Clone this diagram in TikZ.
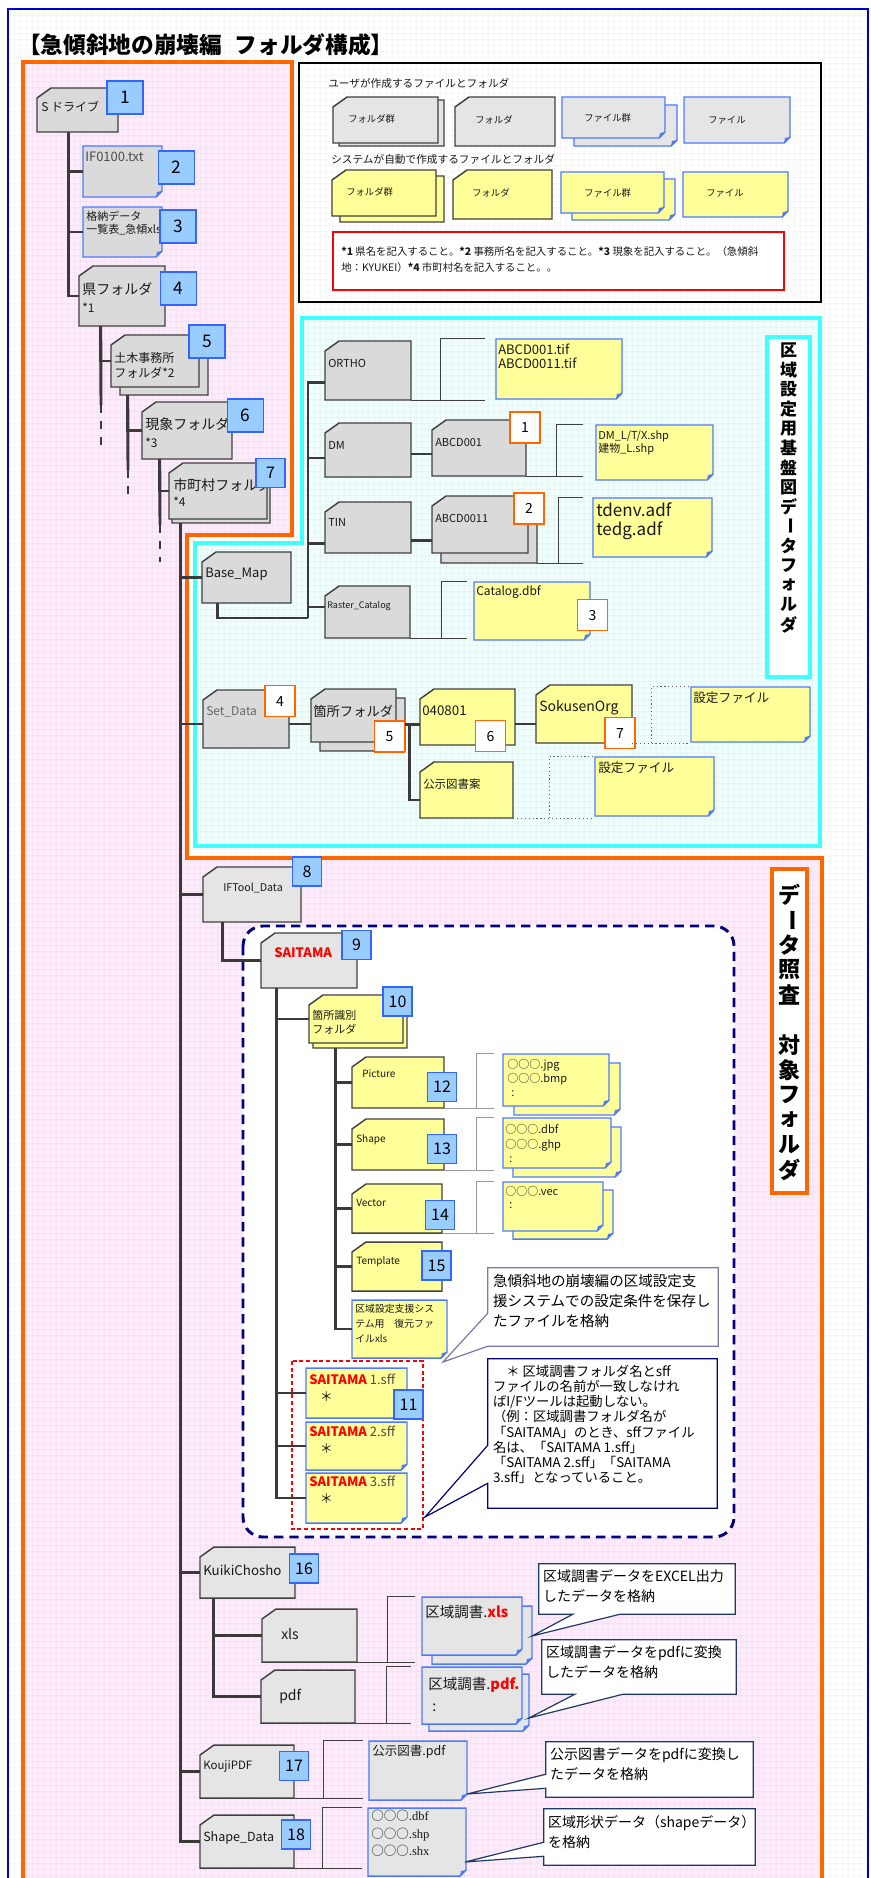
\documentclass[tikz,border=0pt]{standalone}
\usepackage{fontspec}
\setmainfont{Noto Sans CJK JP}
\newfontfamily\lserif{Liberation Serif}
\usetikzlibrary{calc,fit}

\definecolor{pinkbg}{RGB}{253,235,251}
\definecolor{cyanbg}{RGB}{240,253,253}
\definecolor{orng}{RGB}{255,102,0}
\definecolor{cyanln}{RGB}{64,255,255}
\definecolor{frameblue}{RGB}{0,0,204}
\definecolor{fldgray}{RGB}{64,64,64}
\definecolor{gfill}{RGB}{218,218,218}
\definecolor{lgfill}{RGB}{229,229,229}
\definecolor{yfill}{RGB}{255,255,153}
\definecolor{fileblue}{RGB}{77,121,255}
\definecolor{badgefill}{RGB}{153,204,255}
\definecolor{badgeline}{RGB}{51,102,255}
\definecolor{dnavy}{RGB}{0,0,128}
\definecolor{treegray}{RGB}{58,58,58}
\definecolor{callblue}{RGB}{31,56,100}
\definecolor{callgray}{RGB}{120,120,170}

\newcommand{\fsz}[2]{\fontsize{#1}{#2}\selectfont}
\newcommand{\ooo}{○○○}

% folder: name, x1, y1, x2, y2, fill
\newcommand{\fldr}[6]{%
	\draw[fldline, fill=#6] ({#2+14},{#3}) -- ({#4},{#3}) -- ({#4},{#5}) -- ({#2},{#5}) -- ({#2},{#3+10}) -- cycle;
	\node[shapebox, fit={({#2},{#3}) ({#4},{#5})}] (#1) {};}
% folder group, back sheet shifted by (#7,#8)
\newcommand{\fldrs}[8]{%
	\fldr{#1-b}{#2+#7}{#3+#8}{#4+#7}{#5+#8}{#6}
	\fldr{#1}{#2}{#3}{#4}{#5}{#6}}
% file with folded corner: name, x1, y1, x2, y2, fill
\newcommand{\fyle}[6]{%
	\draw[fileline, fill=#6] ({#2},{#3}) -- ({#4},{#3}) -- ({#4},{#5-6}) -- ({#4-6},{#5}) -- ({#2},{#5}) -- cycle;
	\fill[fileblue] ({#4},{#5-6}) -- ({#4-6},{#5}) -- ({#4-5},{#5-5}) -- cycle;
	\node[shapebox, fit={({#2},{#3}) ({#4},{#5})}] (#1) {};}
\newcommand{\fyles}[8]{%
	\fyle{#1-b}{#2+#7}{#3+#8}{#4+#7}{#5+#8}{#6}
	\fyle{#1}{#2}{#3}{#4}{#5}{#6}}
% bracket from folder to its files
\newcommand{\brkt}[5]{%
	\draw[#5] (#1.south east) -- ($(#1.south east -| #2.west)+(-#4,0)$);
	\draw[#5] ($(#1.south east)+(#3,0)$) |- ($(#2.north west)+(-#4,0)$);}

\tikzset{
	shapebox/.style={inner sep=0pt},
	fldline/.style={draw=fldgray, line width=1.1pt},
	fileline/.style={draw=fileblue, line width=1.1pt},
	trunk/.style={draw=treegray, line width=2.2pt},
	brk/.style={draw=fldgray, line width=0.9pt},
	brklt/.style={draw=black!40, line width=0.9pt},
	brkdot/.style={draw=black!60, line width=0.9pt, dotted},
	lbl/.style={anchor=west, inner sep=0pt, align=left, text=black!90},
	badge/.style={draw=badgeline, fill=badgefill, line width=1.1pt, inner sep=0pt, minimum width=27pt, minimum height=25pt, font=\fsz{13}{13}},
	sbadge/.style={badge, minimum width=21.5pt, minimum height=21.5pt, font=\fsz{12}{12}},
	obadge/.style={draw=orng, fill=white, line width=1.1pt, inner sep=0pt, minimum width=22.5pt, minimum height=23.5pt, font=\fsz{10.5}{10.5}},
	callln/.style={draw=callblue, line width=0.9pt, fill=white},
	ctxt/.style={anchor=north west, inner sep=0pt, align=left, font=\fsz{10.5}{15}},
	vchr/.style={inner sep=0pt, font=\fsz{12.75}{12.75}\bfseries},
	gridln/.style={black, opacity=0.028, line width=0.4pt}
}

\begin{document}
\begin{tikzpicture}[x=0.75pt, y=-0.75pt]
	\useasboundingbox (0,0) rectangle (871,1878);
	\clip (0,0) rectangle (871,1878);
	\fill[white] (0,0) rectangle (871,1878);
	% regions
	\fill[pinkbg] (23,62) -- (292,62) -- (292,535) -- (187,535) -- (187,858) -- (822,858) -- (822,1900) -- (23,1900) -- cycle;
	\fill[cyanbg] (302,318) -- (820,318) -- (820,846) -- (195,846) -- (195,543) -- (302,543) -- cycle;
	\foreach \gx in {14,20,...,866} \draw[gridln] (\gx,10) -- (\gx,1878);
	\foreach \gy in {15,21,...,1878} \draw[gridln] (9,\gy) -- (867,\gy);
	\draw[orng, line width=2.4pt] (23,62) -- (292,62) -- (292,535) -- (187,535) -- (187,858) -- (822,858) -- (822,1900) -- (23,1900) -- cycle;
	\draw[cyanln, line width=2.6pt] (302,318) -- (820,318) -- (820,846) -- (195,846) -- (195,543) -- (302,543) -- cycle;
	\draw[frameblue, line width=1.6pt] (8,9) rectangle (868,1900);

	\node[anchor=west, inner sep=0pt, font=\fsz{17}{17}\bfseries] (title) at (18,45) {【急傾斜地の崩壊編\hspace{0.55em}フォルダ構成】};

	% legend
	\draw[black, line width=2.2pt] (299,63) rectangle (821,302);
	\node[lbl, font=\fsz{8}{8}] (lg-t1) at (328,83) {ユーザが作成するファイルとフォルダ};
	\fldrs{lg1}{333}{97}{438}{143}{lgfill}{6}{3}
	\fldr{lg2}{455}{97}{555}{146}{lgfill}
	\fyles{lg3}{562}{97}{665}{138}{lgfill}{12}{8}
	\fyle{lg4}{684}{97}{790}{143}{lgfill}
	\node[lbl, font=\fsz{7}{7}] (lg1-t) at (348,119) {フォルダ群};
	\node[lbl, font=\fsz{7}{7}] (lg2-t) at (475,120) {フォルダ};
	\node[lbl, font=\fsz{7}{7}] (lg3-t) at (584,118) {ファイル群};
	\node[lbl, font=\fsz{7}{7}] (lg4-t) at (708,120) {ファイル};
	\node[lbl, font=\fsz{8}{8}] (lg-t2) at (331,159) {システムが自動で作成するファイルとフォルダ};
	\fldrs{lg5}{332}{170}{436}{216}{yfill}{8}{6}
	\fldr{lg6}{453}{170}{552}{219}{yfill}
	\fyles{lg7}{561}{172}{664}{213}{yfill}{11}{7}
	\fyle{lg8}{683}{172}{788}{217}{yfill}
	\node[lbl, font=\fsz{7}{7}] (lg5-t) at (346,192) {フォルダ群};
	\node[lbl, font=\fsz{7}{7}] (lg6-t) at (472,193) {フォルダ};
	\node[lbl, font=\fsz{7}{7}] (lg7-t) at (584,193) {ファイル群};
	\node[lbl, font=\fsz{7}{7}] (lg8-t) at (706,193) {ファイル};
	\draw[red, line width=2.2pt, fill=white] (333,232) rectangle (784,290);
	\node[lbl, anchor=north west, font=\fsz{7.8}{12}] (note) at (341,246) {{\bfseries *1} 県名を記入すること。{\bfseries *2} 事務所名を記入すること。{\bfseries *3} 現象を記入すること。（急傾斜\\地：KYUKEI）{\bfseries *4} 市町村名を記入すること。。};

	% S drive tree
	\fldr{sdrive}{37}{88}{118}{132}{gfill}
	\fyle{if0100}{83}{146}{162}{197}{gfill}
	\fyle{kakunou}{83}{207}{162}{257}{gfill}
	\fldr{kenf}{79}{266}{165}{326}{gfill}
	\fldrs{doboku}{111}{335}{199}{387}{gfill}{9}{8}
	\fldr{genshou}{142}{402}{232}{459}{gfill}
	\fldrs{shichou}{169}{463}{267}{519}{gfill}{3}{4}
	\node[lbl, font=\fsz{9}{9}] (sdrive-t) at (41,107) {S ドライブ};
	\node[lbl, font=\fsz{9.75}{9.75}, text=black!70] (if0100-t) at (85,157) {IF0100.txt};
	\node[lbl, font=\fsz{8.25}{9.75}] (kakunou-t) at (86,223.5) {格納データ\\一覧表\_急傾xls};
	\node[lbl, font=\fsz{10.5}{10.5}] (kenf-t) at (82,289) {県フォルダ};
	\node[lbl, font=\fsz{9}{9}] (kenf-s) at (82,308) {*1};
	\node[lbl, font=\fsz{9}{11.25}] (doboku-t) at (114,365) {土木事務所\\フォルダ*2};
	\node[lbl, font=\fsz{10.5}{10.5}] (genshou-t) at (145,424) {現象フォルダ};
	\node[lbl, font=\fsz{9}{9}] (genshou-s) at (145,443) {*3};
	\node[lbl, font=\fsz{10.5}{10.5}] (shichou-t) at (173,485) {市町村フォルダ};
	\node[lbl, font=\fsz{9}{9}] (shichou-s) at (173,502) {*4};
	\node[badge] (n1) at (125,97.5) {1};
	\node[badge] (n2) at (176.5,167.5) {2};
	\node[badge] (n3) at (178,226.5) {3};
	\node[badge] (n4) at (178.5,288.5) {4};
	\node[badge] (n5) at (207,341.5) {5};
	\node[badge] (n6) at (245.5,415.5) {6};
	\node[sbadge] (n7) at (270.5,473) {7};

	% base map folders
	\fldr{basemap}{202}{552}{291}{603}{gfill}
	\fldr{ortho}{325}{341}{411}{400}{gfill}
	\fldr{dm}{325}{423}{411}{477}{gfill}
	\fldr{abcd001}{432}{420}{526}{476}{gfill}
	\fldr{tin}{325}{502}{411}{553}{gfill}
	\fldrs{abcd0011}{432}{496}{528}{553}{gfill}{9}{10}
	\fldr{raster}{325}{586}{410}{638}{gfill}
	\fyle{orthofile}{496}{339}{622}{399}{yfill}
	\fyle{dmfile}{596}{425}{713}{480}{yfill}
	\fyle{tinfile}{593}{498}{712}{557}{yfill}
	\fyle{catalog}{474}{582}{590}{640}{yfill}
	\node[lbl, font=\fsz{9.75}{9.75}] (basemap-t) at (205,574) {Base\_Map};
	\node[lbl, font=\fsz{8.25}{8.25}] (ortho-t) at (328,363) {ORTHO};
	\node[lbl, font=\fsz{8.25}{8.25}] (dm-t) at (328,445) {DM};
	\node[lbl, font=\fsz{8.25}{8.25}] (abcd001-t) at (435,442) {ABCD001};
	\node[lbl, font=\fsz{8.25}{8.25}] (tin-t) at (328,522) {TIN};
	\node[lbl, font=\fsz{8.25}{8.25}] (abcd0011-t) at (435,518) {ABCD0011};
	\node[lbl, font=\fsz{6.75}{6.75}] (raster-t) at (327,606) {Raster\_Catalog};
	\node[lbl, font=\fsz{9.75}{10.5}] (orthofile-t) at (498,356) {ABCD001.tif\\ABCD0011.tif};
	\node[lbl, font=\fsz{8.25}{10.2}] (dmfile-t) at (598,443) {DM\_L/T/X.shp\\建物\_L.shp};
	\node[lbl, font=\fsz{12.75}{14.25}] (tinfile-t) at (596,521.5) {tdenv.adf\\tedg.adf};
	\node[lbl, font=\fsz{9}{9}] (catalog-t) at (476,592) {Catalog.dbf};
	\node[obadge] (o1) at (525,427.5) {1};
	\node[obadge] (o2) at (529,508.5) {2};
	\node[obadge] (o3) at (592.5,615) {3};

	% vertical label, base map folder
	\draw[cyanln, line width=2.4pt, fill=white] (767,337) rectangle (810,677);
	\foreach \c/\k in {区/0,域/1,設/2,定/3,用/4,基/5,盤/6,図/7,デ/8,タ/10,フ/11,ォ/12,ル/13,ダ/14}
		\node[vchr] (vk\k) at (788.5,{350+19.6*\k}) {\c};
	\node[vchr, rotate=-90] (vk9) at (788.5,{350+19.6*9}) {ー};

	% set data folders
	\fldr{setdata}{203}{690}{289}{748}{gfill}
	\fldrs{kasho}{311}{689}{396}{742}{gfill}{9}{9}
	\fldr{f040801}{420}{689}{515}{745}{yfill}
	\fldr{sokusen}{536}{685}{632}{743}{yfill}
	\fldr{koji}{420}{762}{513}{818}{yfill}
	\fyle{settei1}{691}{687}{810}{742}{yfill}
	\fyle{settei2}{595}{757}{714}{816}{yfill}
	\node[lbl, font=\fsz{9}{9}, text=black!60] (setdata-t) at (206,712) {Set\_Data};
	\node[lbl, font=\fsz{10}{10}] (kasho-t) at (313,711) {箇所フォルダ};
	\node[lbl, font=\fsz{10}{10}] (f040801-t) at (422,711) {040801};
	\node[lbl, font=\fsz{10.5}{10.5}] (sokusen-t) at (539,708) {SokusenOrg};
	\node[lbl, font=\fsz{9.5}{9.5}] (settei1-t) at (693,698) {設定ファイル};
	\node[lbl, font=\fsz{8.6}{8.6}] (koji-t) at (423,784) {公示図書案};
	\node[lbl, font=\fsz{9.5}{9.5}] (settei2-t) at (598,768) {設定ファイル};
	\node[obadge] (o4) at (280,701) {4};
	\node[obadge] (o5) at (389.5,736.5) {5};
	\node[obadge] (o6) at (490.5,736) {6};
	\node[obadge] (o7) at (620,733) {7};

	% vertical label, check folder
	\draw[orng, line width=2.4pt, fill=white] (772,869) rectangle (807,1193);
	\foreach \c/\k in {デ/0,タ/2,照/3,査/4,対/6,象/7,フ/8,ォ/9,ル/10,ダ/11}
		\node[vchr, font=\fsz{16.5}{16.5}\bfseries] (vd\k) at (789.5,{895+25*\k}) {\c};
	\node[vchr, rotate=-90, font=\fsz{16.5}{16.5}\bfseries] (vd1) at (789.5,920) {ー};

	% IFTool data
	\draw[dnavy, line width=2.2pt, dash pattern=on 7pt off 4.5pt, rounded corners=15pt, fill=white] (243,926) rectangle (734,1537);
	\draw[red, line width=0.8pt, dash pattern=on 3pt off 2pt] (292,1361) rectangle (423,1529);
	\fldr{iftool}{203}{867}{301}{922}{lgfill}
	\fldr{saitama}{261}{933}{357}{988}{lgfill}
	\fldrs{kashoshiki}{309}{995}{403}{1043}{yfill}{4}{5}
	\fldr{picture}{352}{1057}{444}{1108}{yfill}
	\fldr{shape}{352}{1119}{444}{1170}{yfill}
	\fldr{vector}{352}{1184}{442}{1233}{yfill}
	\fldr{template}{352}{1242}{442}{1291}{yfill}
	\fyles{picfiles}{503}{1054}{609}{1106}{yfill}{11}{9}
	\fyles{shpfiles}{503}{1118}{611}{1168}{yfill}{10}{9}
	\fyles{vecfiles}{503}{1182}{603}{1231}{yfill}{10}{8}
	\fyle{fukugen}{352}{1300}{447}{1358}{yfill}
	\fyle{sff1}{306}{1368}{407}{1418}{yfill}
	\fyle{sff2}{306}{1422}{407}{1470}{yfill}
	\fyle{sff3}{306}{1473}{407}{1523}{yfill}
	\node[lbl, font=\fsz{8}{8}] (iftool-t) at (223,888) {IFTool\_Data};
	\node[lbl, font=\fsz{9.75}{9.75}\bfseries, text=red] (saitama-t) at (274,953) {SAITAMA};
	\node[lbl, font=\fsz{8.25}{10.5}] (kashoshiki-t) at (312,1022) {箇所識別\\フォルダ};
	\node[lbl, font=\fsz{7.5}{7.5}] (picture-t) at (362,1074) {Picture};
	\node[lbl, font=\fsz{7.5}{7.5}] (shape-t) at (356,1140) {Shape};
	\node[lbl, font=\fsz{7.5}{7.5}] (vector-t) at (356,1203) {Vector};
	\node[lbl, font=\fsz{7.5}{7.5}] (template-t) at (356,1262) {Template};
	\node[lbl, font=\fsz{8.25}{10.8}] (picfiles-t) at (507,1078) {\ooo.jpg\\\ooo.bmp\\\hspace{3pt}:};
	\node[lbl, font=\fsz{8.25}{10.8}] (shpfiles-t) at (505,1143.5) {\ooo.dbf\\\ooo.ghp\\\hspace{3pt}:};
	\node[lbl, font=\fsz{8.25}{10}] (vecfiles-t) at (505,1197.5) {\ooo.vec\\\hspace{3pt}:};
	\node[lbl, font=\fsz{7.4}{10.9}] (fukugen-t) at (355,1323.5) {区域設定支援シス\\テム用　復元ファ\\イルxls};
	\node[lbl, font=\fsz{9.75}{12.75}] (sff1-t) at (309,1387.5) {{\color{red}\bfseries SAITAMA} {\color{black!70}1.sff}\\\hspace{8pt}＊};
	\node[lbl, font=\fsz{9.75}{12.75}] (sff2-t) at (309,1439.5) {{\color{red}\bfseries SAITAMA} {\color{black!70}2.sff}\\\hspace{8pt}＊};
	\node[lbl, font=\fsz{9.75}{12.75}] (sff3-t) at (309,1490) {{\color{red}\bfseries SAITAMA} {\color{black!70}3.sff}\\\hspace{8pt}＊};
	\node[sbadge] (n8) at (307,871.5) {8};
	\node[sbadge] (n9) at (356.5,945) {9};
	\node[sbadge] (n10) at (397.5,1001.5) {10};
	\node[sbadge] (n12) at (442,1087) {12};
	\node[sbadge] (n13) at (442,1149) {13};
	\node[sbadge] (n14) at (440,1215) {14};
	\node[sbadge] (n15) at (436.5,1265.5) {15};
	\node[sbadge] (n11) at (408.5,1404.5) {11};

	% callouts inside the check folder
	\node[shapebox, fit={(488,1268) (718,1346)}] (c1) {};
	\coordinate (c1tip) at (443,1362);
	\draw[callln, draw=callgray] (c1.north west) -- (c1.north east) -- (c1.south east) -- (c1.south west) -- (c1tip) -- ($(c1.south west)+(0,-33)$) -- cycle;
	\node[ctxt, font=\fsz{10.9}{15}] (c1-t) at ($(c1.north west)+(5,6)$) {急傾斜地の崩壊編の区域設定支\\援システムでの設定条件を保存し\\たファイルを格納};
	\node[shapebox, fit={(488,1359) (717,1508)}] (c2) {};
	\coordinate (c2tip) at (425,1517);
	\draw[callln, draw=dnavy] (c2.north west) -- (c2.north east) -- (c2.south east) -- (c2.south west) -- ($(c2.south west)+(0,-25)$) -- (c2tip) -- ($(c2.south west)+(0,-63)$) -- cycle;
	\node[ctxt, font=\fsz{10}{11.4}] (c2-t) at ($(c2.north west)+(5,6)$) {\hspace{1em}＊ 区域調書フォルダ名とsff\\ファイルの名前が一致しなけれ\\ばI/Fツールは起動しない。\\（例：区域調書フォルダ名が\\「SAITAMA」のとき、sffファイル\\名は、「SAITAMA 1.sff」\\「SAITAMA 2.sff」「SAITAMA\\3.sff」となっていること。};

	% KuikiChosho, KoujiPDF, Shape_Data
	\fldr{kuiki}{200}{1547}{295}{1598}{lgfill}
	\fldr{xls}{262}{1609}{357}{1662}{lgfill}
	\fldr{pdf}{261}{1670}{355}{1723}{lgfill}
	\fldr{kouji}{200}{1745}{294}{1798}{lgfill}
	\fldr{shapedata}{200}{1815}{294}{1868}{lgfill}
	\fyles{kxls}{422}{1597}{522}{1655}{lgfill}{10}{9}
	\fyles{kpdf}{422}{1667}{522}{1724}{lgfill}{7}{7}
	\fyle{koujipdf}{369}{1741}{467}{1800}{lgfill}
	\fyle{shapefile}{368}{1808}{466}{1876}{lgfill}
	\node[lbl, font=\fsz{10}{10}] (kuiki-t) at (203,1570) {KuikiChosho};
	\node[lbl, font=\fsz{10.5}{10.5}] (xls-t) at (281,1634) {xls};
	\node[lbl, font=\fsz{10.5}{10.5}] (pdf-t) at (279,1696) {pdf};
	\node[lbl, font=\fsz{10.9}{10.9}] (kxls-t) at (425,1612) {区域調書.{\color{red}\bfseries xls}};
	\node[lbl, font=\fsz{10.9}{16.5}] (kpdf-t) at (428,1694) {区域調書.{\color{red}\bfseries pdf.}\\\hspace{3pt}:};
	\node[lbl, font=\fsz{8.6}{8.6}] (kouji-t) at (203,1766) {KoujiPDF};
	\node[lbl, font=\fsz{9.4}{9.4}] (koujipdf-t) at (372,1752) {公示図書.pdf};
	\node[lbl, font=\fsz{9.4}{9.4}] (shapedata-t) at (203,1838) {Shape\_Data};
	\node[lbl, font=\fsz{9.4}{13}] (shapefile-t) at (371,1833.5) {\ooo{\lserif .dbf}\\\ooo{\lserif .shp}\\\ooo{\lserif .shx}};
	\node[sbadge] (n16) at (304,1568.5) {16};
	\node[sbadge] (n17) at (294,1766) {17};
	\node[sbadge] (n18) at (296,1834.5) {18};

	% callouts, lower part
	\node[shapebox, fit={(539,1564) (735,1614)}] (c3) {};
	\coordinate (c3tip) at (532,1636);
	\draw[callln] (c3.north west) -- (c3.north east) -- (c3.south east) -- ($(c3.south west)+(81,0)$) -- (c3tip) -- ($(c3.south west)+(34,0)$) -- (c3.south west) -- cycle;
	\node[ctxt] (c3-t) at ($(c3.north west)+(4,6)$) {区域調書データをEXCEL出力\\したデータを格納};
	\node[shapebox, fit={(542,1640) (736,1694)}] (c4) {};
	\coordinate (c4tip) at (529,1718);
	\draw[callln] (c4.north west) -- (c4.north east) -- (c4.south east) -- ($(c4.south west)+(81,0)$) -- (c4tip) -- ($(c4.south west)+(33,0)$) -- (c4.south west) -- cycle;
	\node[ctxt] (c4-t) at ($(c4.north west)+(4,6)$) {区域調書データをpdfに変換\\したデータを格納};
	\node[shapebox, fit={(546,1742) (753,1797)}] (c5) {};
	\coordinate (c5tip) at (467,1794);
	\draw[callln] (c5.north west) -- (c5.north east) -- (c5.south east) -- (c5.south west) -- ($(c5.south west)+(0,-9)$) -- (c5tip) -- ($(c5.south west)+(0,-23)$) -- cycle;
	\node[ctxt] (c5-t) at ($(c5.north west)+(4,6)$) {公示図書データをpdfに変換し\\たデータを格納};
	\node[shapebox, fit={(544,1809) (755,1865)}] (c6) {};
	\coordinate (c6tip) at (465,1862);
	\draw[callln] (c6.north west) -- (c6.north east) -- (c6.south east) -- (c6.south west) -- ($(c6.south west)+(0,-9)$) -- (c6tip) -- ($(c6.south west)+(0,-23)$) -- cycle;
	\node[ctxt] (c6-t) at ($(c6.north west)+(4,6)$) {区域形状データ（shapeデータ）\\を格納};

	% tree lines
	\foreach \c in {if0100,kakunou,kenf}
		\draw[trunk] ($(sdrive.south west)+(32,0)$) |- (\c.west);
	\coordinate (kenend) at (101,405);
	\coordinate (kendash) at (101,450);
	\draw[trunk] ($(kenf.south west)+(22,0)$) |- (doboku.west);
	\draw[trunk] ($(kenf.south west)+(22,0)$) -- (kenend);
	\draw[trunk, dash pattern=on 6pt off 6pt] (kenend) -- (kendash);
	\coordinate (dobend) at (128,470);
	\coordinate (dobdash) at (128,500);
	\draw[trunk] ($(doboku-b.south west)+(8,0)$) |- (genshou.west);
	\draw[trunk] ($(doboku-b.south west)+(8,0)$) -- (dobend);
	\draw[trunk, dash pattern=on 6pt off 6pt] (dobend) -- (dobdash);
	\coordinate (genend) at (160,525);
	\coordinate (gendash) at (160,562);
	\draw[trunk] ($(genshou.south west)+(18,0)$) |- (shichou.west);
	\draw[trunk] ($(genshou.south west)+(18,0)$) -- (genend);
	\draw[trunk, dash pattern=on 6pt off 6pt] (genend) -- (gendash);
	\foreach \c in {basemap,iftool,kuiki,kouji,shapedata}
		\draw[trunk] ($(shichou-b.south west)+(9,0)$) |- (\c.west);
	\draw[trunk] ($(shichou-b.south west)+(9,0)$) |- ($(setdata.west)+(0,5)$);
	% base map
	\coordinate (bmhub) at (308,618);
	\draw[trunk] ($(basemap.south west)+(16,0)$) |- (bmhub);
	\draw[trunk] (bmhub) |- ($(ortho.west)+(0,12)$);
	\draw[trunk] (bmhub) |- ($(dm.west)+(0,8)$);
	\draw[trunk] (bmhub) |- ($(tin.west)+(0,16)$);
	\draw[trunk] (bmhub) |- ($(raster.west)+(0,-5)$);
	\draw[trunk] ($(dm.east)+(0,4)$) -- ($(dm.east -| abcd001.west)+(0,4)$);
	\draw[trunk] ($(tin.east)+(0,13)$) -- ($(tin.east -| abcd0011.west)+(0,13)$);
	% set data
	\draw[trunk] ($(setdata.east)+(0,5)$) -- ($(setdata.east -| kasho.west)+(0,5)$);
	\draw[trunk] (kasho-b.east) -- (kasho-b.east -| f040801.west);
	\draw[trunk] ($(f040801.east)+(0,7)$) -- ($(f040801.east -| sokusen.west)+(0,7)$);
	\draw[trunk] ($(kasho-b.east)+(4,0)$) |- ($(koji.west)+(0,10)$);
	% IFTool data
	\draw[trunk] ($(iftool.south west)+(20,0)$) |- (saitama.west);
	\foreach \c in {kashoshiki,sff1,sff2,sff3}
		\draw[trunk] ($(saitama.south west)+(16,0)$) |- (\c.west);
	\foreach \c in {picture,shape,vector,template,fukugen}
		\draw[trunk] ($(kashoshiki-b.south west)+(23,0)$) |- (\c.west);
	\foreach \c in {xls,pdf}
		\draw[trunk] ($(kuiki.south west)+(14,0)$) |- (\c.west);

	% brackets to files
	\brkt{ortho}{orthofile}{29}{11}{brk}
	\brkt{abcd001}{dmfile}{30}{13}{brk}
	\brkt{abcd0011-b}{tinfile}{21}{10}{brk}
	\brkt{raster}{catalog}{31}{7}{brk}
	\brkt{sokusen}{settei1}{19}{1}{brkdot}
	\brkt{koji}{settei2}{36}{1}{brkdot}
	\brkt{picture}{picfiles}{32}{9}{brklt}
	\brkt{shape}{shpfiles}{32}{9}{brklt}
	\brkt{vector}{vecfiles}{34}{9}{brklt}
	\brkt{xls}{kxls}{30}{7}{brk}
	\brkt{pdf}{kpdf}{31}{11}{brk}
	\brkt{kouji}{koujipdf}{29}{6}{brk}
	\brkt{shapedata}{shapefile}{28}{6}{brk}
\end{tikzpicture}
\end{document}
